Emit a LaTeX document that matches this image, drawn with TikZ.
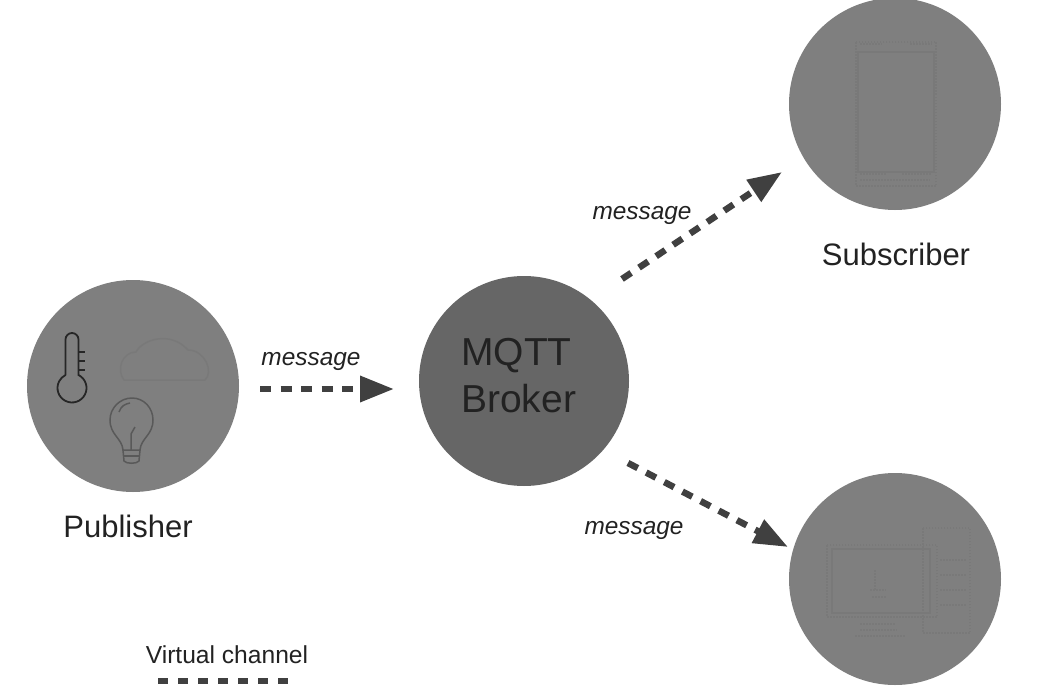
\documentclass[tikz,border=0pt]{standalone}
\usepackage{fontspec}
\setmainfont{Liberation Sans}
\usetikzlibrary{arrows.meta}
\definecolor{discgray}{HTML}{7F7F7F}
\definecolor{brokergray}{HTML}{666666}
\definecolor{arrowgray}{HTML}{404040}
\definecolor{faint}{HTML}{797979}
\definecolor{ink}{HTML}{222222}
\tikzset{
  disc/.style={circle,fill=discgray,inner sep=0pt,minimum size=212pt},
  channel/.style={draw=arrowgray,line width=6.5pt,dash pattern=on 11pt off 9.5pt,
    -{Triangle[length=34pt,width=25pt,fill=arrowgray]}},
  legendline/.style={draw=arrowgray,line width=6pt,dash pattern=on 10pt off 10pt},
  msg/.style={font=\fontsize{24.4}{28}\selectfont\itshape,text=ink,inner sep=0pt},
  captionlabel/.style={font=\fontsize{31}{36}\selectfont,text=ink,inner sep=0pt},
  faintline/.style={draw=faint,line width=1.5pt},
  faintdots/.style={draw=faint,line width=2pt,dash pattern=on 1.5pt off 1.5pt},
  iconb/.style={draw=black!85,line width=1.8pt},
  iconc/.style={draw=black!65,line width=1.5pt}
}
\begin{document}
\begin{tikzpicture}[x=1pt,y=-1pt]
\useasboundingbox (0,0) rectangle (1050,688);
\fill[white] (0,0) rectangle (1050,688);
\node[disc] (pub) at (133,386) {};
\node[disc,fill=brokergray,minimum size=210pt] (broker) at (524,381) {};
\node[disc] (sub) at (895,104) {};
\node[disc] (pc) at (895,579) {};
\node[font=\fontsize{39}{47}\selectfont,text=ink,align=left,inner sep=0pt,anchor=west] (brokerlabel) at (461,376) {MQTT\\Broker};
\node[captionlabel] (publabel) at (128,526) {Publisher};
\node[captionlabel] (sublabel) at (896,254) {Subscriber};
\node[msg] (m1) at (311,361) {message};
\node[msg] (m2) at (642,215) {message};
\node[msg] (m3) at (634,530) {message};
\node[font=\fontsize{24.6}{28}\selectfont,text=ink,inner sep=0pt] (legend) at (227,655) {Virtual channel};
\coordinate (a1s) at (260,389); \coordinate (a1e) at (394,389);
\coordinate (a2s) at (622,279); \coordinate (a2e) at (782,172);
\coordinate (a3s) at (628,463); \coordinate (a3e) at (788,547);
\coordinate (ls) at (158,681); \coordinate (le) at (290,681);
\draw[channel] (a1s) -- (a1e);
\draw[channel] (a2s) -- (a2e);
\draw[channel] (a3s) -- (a3e);
\draw[legendline] (ls) -- (le);
% thermometer
\draw[iconb] (65.5,375) -- (65.5,339.5) arc[start angle=180,end angle=0,radius=6.5pt] -- (78.5,375)
  arc[start angle=63.4,delta angle=-306.8,radius=14.5pt];
\draw[iconb] (78.5,352) -- (85,352) (78.5,361) -- (85,361) (78.5,370) -- (85,370);
% bulb
\draw[iconc] (123,450) .. controls (122,438) and (110,435) .. (110,420) .. controls (110,408) and (120,398) .. (132,398) .. controls (144,398) and (153,408) .. (153,420) .. controls (153,435) and (141,438) .. (140,450) -- cycle;
\draw[iconc] (123,450) -- (124,461) .. controls (126,464) and (137,464) .. (139,461) -- (140,450);
\draw[iconc] (124,456) -- (139,456);
\draw[iconc] (131,450) -- (131,434) -- (135,427);
\draw[iconc] (119,412) .. controls (121,406) and (125,404) .. (130,403);
% cloud
\draw[faintline] (124,380) .. controls (116,370) and (122,352) .. (136,352) .. controls (142,340) and (170,330) .. (188,350) .. controls (205,350) and (214,372) .. (205,380) -- cycle;
% phone
\draw[faintdots] (856,42) rectangle (936,186);
\draw[faintline] (858,52) rectangle (934,172);
\draw[faintdots] (860,44) -- (882,44) (910,44) -- (932,44);
\draw[faintdots] (860,174) -- (886,174) (902,174) -- (932,174) (860,180) -- (930,180);
% computer
\draw[faintdots] (827,545) rectangle (937,617);
\draw[faintline] (832,549) rectangle (930,613);
\draw[faintdots] (860,624) -- (895,624) (860,630) -- (897,630) (855,636) -- (905,636);
\draw[faintdots] (923,528) rectangle (970,633);
\draw[faintdots] (940,560) -- (966,560) (940,575) -- (966,575) (940,590) -- (966,590) (940,605) -- (966,605);
\draw[faintdots] (875,570) -- (875,590) (870,590) -- (886,590) (872,597) -- (886,597);
\end{tikzpicture}
\end{document}
